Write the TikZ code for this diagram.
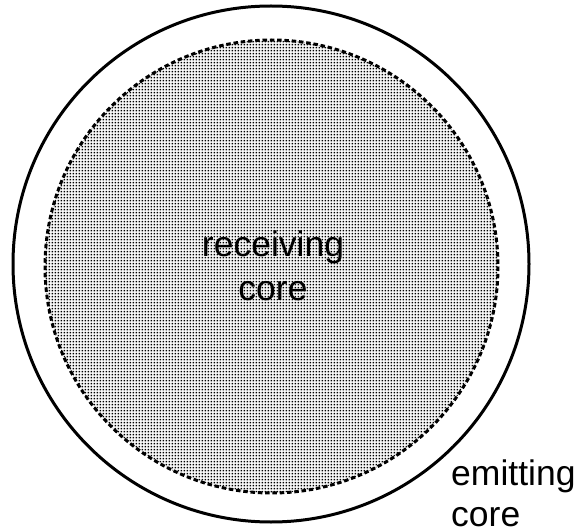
\documentclass[tikz,border=0pt]{standalone}
\usepackage{fontspec}
\setmainfont{Liberation Sans}
\usetikzlibrary{patterns.meta}
\tikzdeclarepattern{
  name=fdots,
  type=uncolored,
  bounding box={(0pt,0pt) and (3.3pt,3.3pt)},
  tile size={(3.3pt,3.3pt)},
  code={\fill (0.7pt,0.7pt) rectangle (2.6pt,2.6pt);}
}
\tikzset{
  outercircle/.style={draw=black, line width=3pt},
  innercircle/.style={draw=black, line width=3pt, dash pattern=on 4.5pt off 2.8pt, pattern=fdots, pattern color=black},
  lbl/.style={font=\fontsize{35.5pt}{42pt}\selectfont, inner sep=0pt, anchor=base, text=black}
}
\begin{document}
\begin{tikzpicture}[x=1pt,y=-1pt]
\useasboundingbox (0,0) rectangle (579,532);
\fill[white] (0,0) rectangle (579,532);
\draw[outercircle] (271,264) circle[radius=258];
\path[innercircle] (271.5,266.5) circle[radius=226.5];
\node[lbl] (recv1) at (273,257) {receiving};
\node[lbl] (recv2) at (273,300) {core};
\node[lbl, anchor=base west] (emit1) at (451,485) {emitting};
\node[lbl, anchor=base west] (emit2) at (451,526) {core};
\end{tikzpicture}
\end{document}
